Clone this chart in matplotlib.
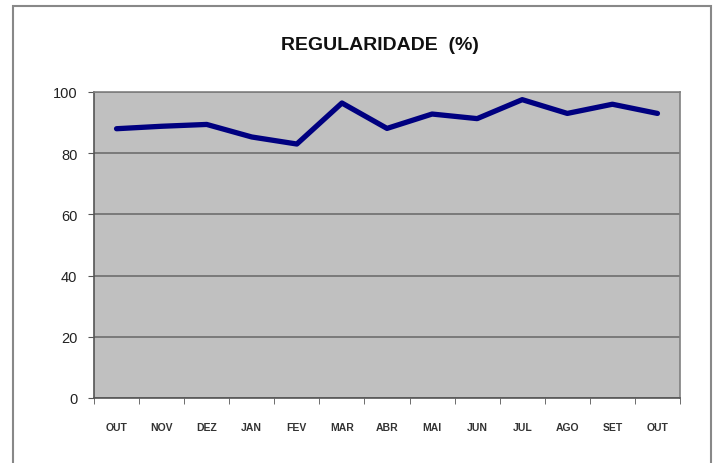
import numpy as np
import matplotlib.pyplot as plt
from matplotlib.patches import Rectangle

months = ["OUT", "NOV", "DEZ", "JAN", "FEV", "MAR", "ABR",
          "MAI", "JUN", "JUL", "AGO", "SET", "OUT"]
regularidade = [88, 88.8, 89.4, 85.3, 83, 96.4, 88.1,
                92.8, 91.3, 97.5, 93, 96, 93]

fig = plt.figure(figsize=(7.14, 4.64), dpi=100)
plt.rcParams['font.family'] = ['Liberation Sans', 'DejaVu Sans']

# outer chart frame
fig.patches.append(Rectangle((13 / 714, -0.01), 698 / 714, 1 - 7 / 464 + 0.01,
                             transform=fig.transFigure, fill=False,
                             edgecolor="#888888", linewidth=1.5))

ax = fig.add_axes([94 / 714, 65 / 464, 586 / 714, 306 / 464])
ax.set_facecolor("#c0c0c0")

x = np.arange(len(months))
ax.plot(x, regularidade, color="#000080", linewidth=3.8, solid_joinstyle="round",
        solid_capstyle="round", zorder=3)

ax.set_xlim(-0.5, len(months) - 0.5)
ax.set_ylim(0, 100)
ax.set_yticks(np.arange(0, 101, 20))
ax.yaxis.grid(True, color="#6e6e6e", linewidth=1.2)
ax.set_axisbelow(True)

ax.set_xticks(x)
ax.set_xticklabels(months, fontsize=7.5, fontweight="bold", color="#333333")
ax.tick_params(axis="x", which="major", length=0, pad=17)
ax.set_xticks(np.arange(-0.5, len(months)), minor=True)
ax.tick_params(axis="x", which="minor", length=4, color="#555555", direction="out")
ax.tick_params(axis="y", length=4, color="#555555", labelsize=10.5, pad=8, labelcolor="#222222")

for side in ["left", "bottom"]:
    ax.spines[side].set_color("#555555")
    ax.spines[side].set_linewidth(1.2)
for side in ["top", "right"]:
    ax.spines[side].set_color("#808080")
    ax.spines[side].set_linewidth(1.2)

fig.text(0.532, 0.903, "REGULARIDADE  (%)", ha="center", va="center",
         fontsize=14, fontweight="bold", color="#111111")

fig.savefig("out.png", dpi=100)
